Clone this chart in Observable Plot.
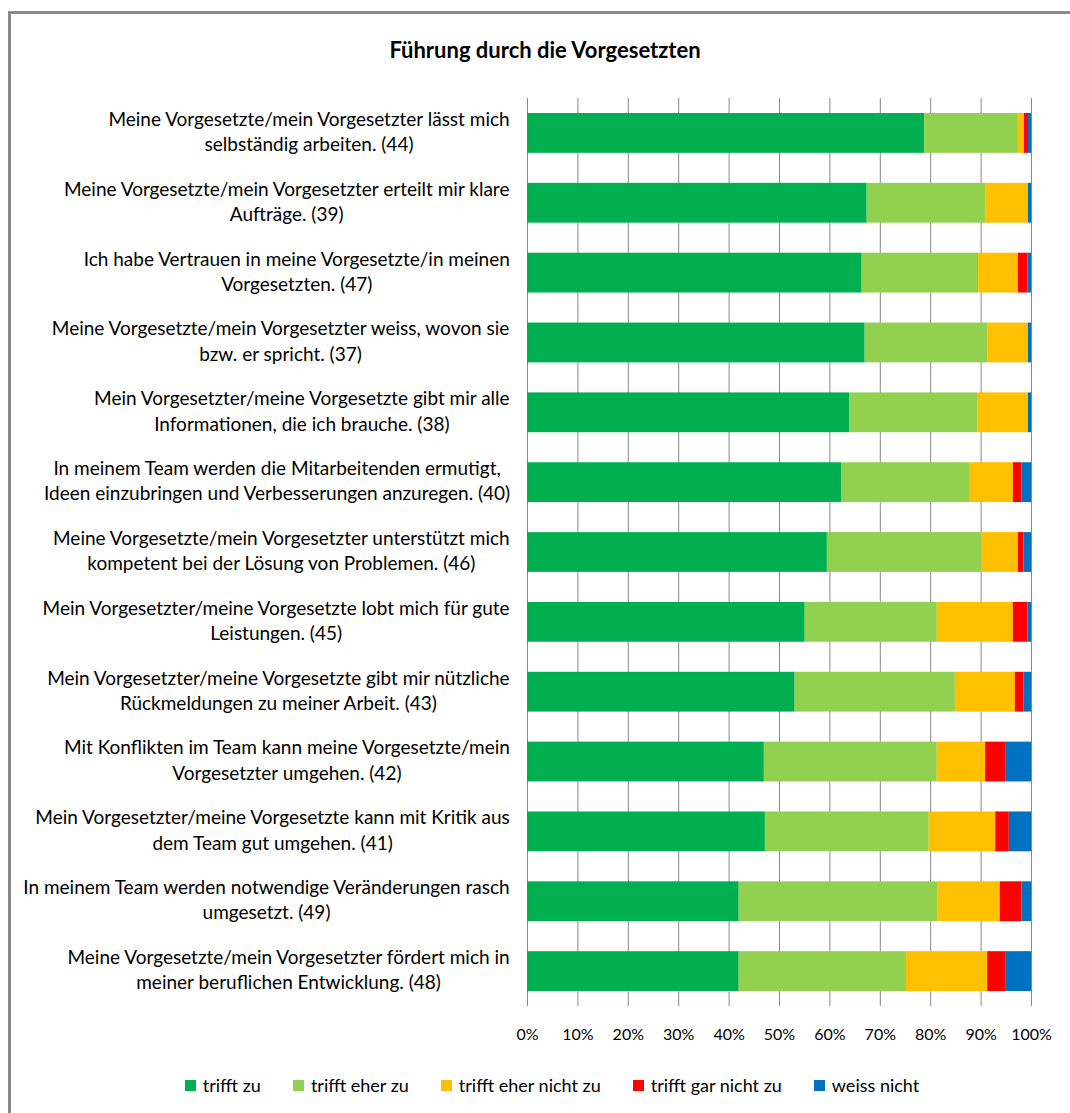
<!DOCTYPE html>
<html><head><meta charset="utf-8">
<script src="https://cdn.jsdelivr.net/npm/d3@7"></script>
<script src="https://cdn.jsdelivr.net/npm/@observablehq/plot@0.6"></script>
<style>
body{margin:0;background:#fff;}
#wrap{position:relative;width:1070px;height:1113px;overflow:hidden;font-family:Lato,sans-serif;color:#000;}
#frame{position:absolute;left:8px;top:11px;width:1100px;height:1200px;border-left:3px solid #898989;border-top:3px solid #898989;}
#title{position:absolute;top:36px;left:0;width:1090px;text-align:center;font-size:22px;font-weight:700;}
#chart{position:absolute;left:0;top:0;}
#legend{position:absolute;top:1074px;left:0;width:1104px;display:flex;justify-content:center;gap:32px;font-size:18px;align-items:center;}
#legend .it{display:flex;align-items:center;gap:7px;}
#legend .sw{width:11px;height:11px;display:inline-block;}
</style>
</head><body>
<div id="wrap">
<div id="frame"></div>
<div id="title">Führung durch die Vorgesetzten</div>
<div id="chart"></div>
<div id="legend"></div>
</div>
<script>
const items = [
  "Meine Vorgesetzte/mein Vorgesetzter lässt mich\nselbständig arbeiten. (44)",
  "Meine Vorgesetzte/mein Vorgesetzter erteilt mir klare\nAufträge. (39)",
  "Ich habe Vertrauen in meine Vorgesetzte/in meinen\nVorgesetzten. (47)",
  "Meine Vorgesetzte/mein Vorgesetzter weiss, wovon sie\nbzw. er spricht. (37)",
  "Mein Vorgesetzter/meine Vorgesetzte gibt mir alle\nInformationen, die ich brauche. (38)",
  "In meinem Team werden die Mitarbeitenden ermutigt,\nIdeen einzubringen und Verbesserungen anzuregen. (40)",
  "Meine Vorgesetzte/mein Vorgesetzter unterstützt mich\nkompetent bei der Lösung von Problemen. (46)",
  "Mein Vorgesetzter/meine Vorgesetzte lobt mich für gute\nLeistungen. (45)",
  "Mein Vorgesetzter/meine Vorgesetzte gibt mir nützliche\nRückmeldungen zu meiner Arbeit. (43)",
  "Mit Konflikten im Team kann meine Vorgesetzte/mein\nVorgesetzter umgehen. (42)",
  "Mein Vorgesetzter/meine Vorgesetzte kann mit Kritik aus\ndem Team gut umgehen. (41)",
  "In meinem Team werden notwendige Veränderungen rasch\numgesetzt. (49)",
  "Meine Vorgesetzte/mein Vorgesetzter fördert mich in\nmeiner beruflichen Entwicklung. (48)"
];
const responses = ["trifft zu", "trifft eher zu", "trifft eher nicht zu", "trifft gar nicht zu", "weiss nicht"];
const colors = ["#00B050", "#92D050", "#FFC000", "#FF0000", "#0070C0"];
const trifftZu        = [78.8, 67.4, 66.4, 67.0, 63.9, 62.3, 59.5, 55.1, 53.1, 47.0, 47.2, 42.0, 42.0];
const trifftEherZu    = [18.6, 23.5, 23.1, 24.3, 25.4, 25.4, 30.6, 26.2, 31.8, 34.3, 32.5, 39.5, 33.2];
const trifftEherNicht = [1.2, 8.5, 7.9, 8.1, 10.1, 8.7, 7.3, 15.1, 11.9, 9.6, 13.2, 12.3, 16.1];
const trifftGarNicht  = [0.8, 0.0, 1.9, 0.0, 0.0, 1.7, 1.1, 2.9, 1.7, 4.1, 2.7, 4.3, 3.7];
const weissNicht      = [0.6, 0.6, 0.7, 0.6, 0.6, 1.9, 1.5, 0.7, 1.5, 5.0, 4.4, 1.9, 5.0];
const xTicks = [0, 10, 20, 30, 40, 50, 60, 70, 80, 90, 100];

const series = [trifftZu, trifftEherZu, trifftEherNicht, trifftGarNicht, weissNicht];
const data = [];
items.forEach((item, i) => {
  responses.forEach((r, j) => data.push({item, resp: r, value: series[j][i]}));
});

const labelSize = 19;
const font = "Lato, sans-serif";
const ctx = document.createElement("canvas").getContext("2d");
ctx.font = `${labelSize}px Lato`;
const blockWidth = s => Math.max(...s.split("\n").map(l => ctx.measureText(l).width));

const labelMarks = items.map(l => Plot.text([l], {
  y: d => d, text: d => d, frameAnchor: "left", textAnchor: "middle",
  dx: -17 - blockWidth(l) / 2, dy: -3, lineHeight: 1.33, fontSize: labelSize, fill: "#000"
}));

const chart = Plot.plot({
  width: 1070, height: 1060,
  marginTop: 98, marginBottom: 54, marginLeft: 527, marginRight: 39,
  style: {fontFamily: font, background: "transparent", color: "#000"},
  x: {domain: [0, 100], axis: null},
  y: {domain: items, axis: null, paddingInner: 0.43, paddingOuter: 0.215, round: false},
  color: {domain: responses, range: colors},
  marks: [
    Plot.gridX({ticks: xTicks, stroke: "#888", strokeOpacity: 1, strokeWidth: 1}),
    Plot.barX(data, Plot.stackX({x: "value", y: "item", fill: "resp", order: responses})),
    Plot.axisX({ticks: xTicks, tickFormat: d => d + "%", tickSize: 0, tickPadding: 22, fontSize: 16, anchor: "bottom", fill: "#000", label: null}),
    ...labelMarks
  ]
});
document.getElementById("chart").appendChild(chart);

const leg = document.getElementById("legend");
responses.forEach((r, j) => {
  const it = document.createElement("div");
  it.className = "it";
  it.innerHTML = `<span class="sw" style="background:${colors[j]}"></span><span>${r}</span>`;
  leg.appendChild(it);
});
</script>
</body></html>
